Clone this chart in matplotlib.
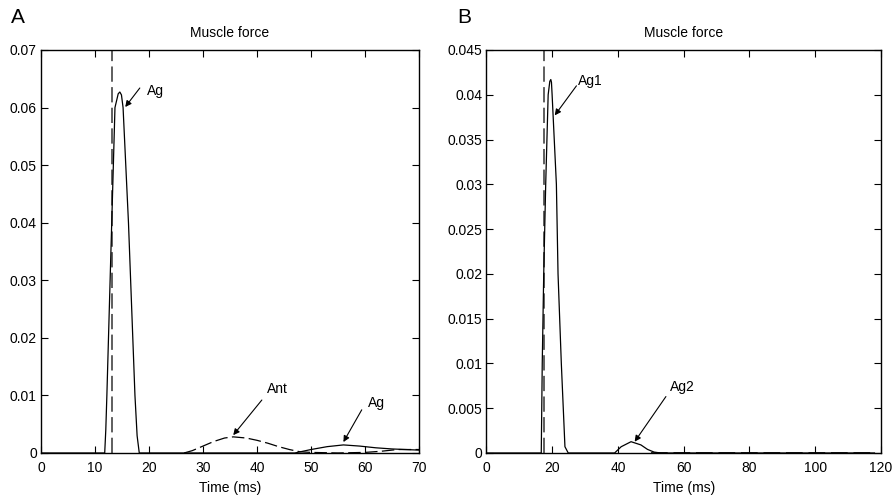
import numpy as np
import matplotlib
matplotlib.use('Agg')
import matplotlib.pyplot as plt
from matplotlib.ticker import FuncFormatter

plt.rcParams['font.family'] = ['Liberation Sans Narrow', 'Liberation Sans', 'DejaVu Sans']

# Panel A: single agonist burst, antagonist, second agonist burst
onset_a = 13.1
ag_a_t = [0, 11.8, 12.0, 12.2, 12.8, 13.1, 13.7, 14.3, 14.6, 14.9, 15.2, 16.2, 16.6, 17.4, 17.8, 18.2,
          47, 50, 53, 56, 59, 62, 65, 70]
ag_a = [0, 0, 0.004, 0.01, 0.03, 0.04, 0.06, 0.0624, 0.0627, 0.0622, 0.06, 0.04, 0.03, 0.01, 0.003, 0,
        0, 0.0006, 0.0011, 0.0014, 0.0012, 0.0009, 0.0007, 0.0005]
ant_a_t = [26.5, 28, 30, 32, 34, 35.6, 38, 40, 42, 44, 46, 48, 50, 55, 60, 63, 66, 70]
ant_a = [0, 0.0004, 0.0012, 0.002, 0.0026, 0.0028, 0.0026, 0.0022, 0.0017, 0.0011, 0.0006,
         0.0002, 0.0001, 0.0, 0.0001, 0.0003, 0.0006, 0.0006]

# Panel B: two agonist bursts
onset_b = 17.6
ag_b_t = [0, 16.7, 17.0, 17.45, 18.05, 18.8, 19.3, 19.6, 19.8, 20.0, 21.3, 21.8, 22.8, 23.9, 24.9,
          39, 41, 44, 47, 49, 51, 53, 118]
ag_b = [0, 0, 0.01, 0.02, 0.03, 0.04, 0.0415, 0.0417, 0.0414, 0.04, 0.03, 0.02, 0.01, 0.0007, 0,
        0, 0.0007, 0.00126, 0.0009, 0.0004, 0.0001, 0, 0]
ant_b_t = [50, 117]
ant_b = [0, 0]

xticks_a = np.arange(0, 71, 10)
yticks_a = np.arange(0, 0.0701, 0.01)
xticks_b = np.arange(0, 121, 20)
yticks_b = np.arange(0, 0.04501, 0.005)

dash = (0, (10, 3.5))


def fmt(v, pos):
    s = ('%.3f' % v).rstrip('0').rstrip('.')
    return s


def style_axes(ax, xticks, yticks):
    ax.set_xticks(xticks)
    ax.set_yticks(yticks)
    ax.set_xlim(xticks[0], xticks[-1])
    ax.set_ylim(yticks[0], yticks[-1])
    ax.yaxis.set_major_formatter(FuncFormatter(fmt))
    ax.tick_params(direction='in', length=5, width=0.8, top=True, right=True,
                   labelsize=10, pad=3)
    ax.tick_params(axis='x', pad=6)
    for s in ax.spines.values():
        s.set_linewidth(1.0)
    ax.set_title('Muscle force', fontsize=10, pad=9)
    ax.set_xlabel('Time (ms)', fontsize=10, labelpad=4)


def arrow(ax, tail, tip):
    ax.annotate('', xy=tip, xytext=tail,
                arrowprops=dict(arrowstyle='-|>', color='k', lw=0.8,
                                mutation_scale=9, shrinkA=0, shrinkB=0))


fig = plt.figure(figsize=(8.93, 4.98), dpi=100)
ax_a = fig.add_axes([0.0459, 0.0904, 0.4233, 0.8092])
ax_b = fig.add_axes([0.5446, 0.0904, 0.4420, 0.8092])

# panel A
ax_a.axvline(onset_a, color='#333333', lw=1.1, linestyle=dash)
ax_a.plot(ag_a_t, ag_a, color='k', lw=0.9)
ax_a.plot(ant_a_t, ant_a, color='k', lw=0.9, linestyle=dash)
style_axes(ax_a, xticks_a, yticks_a)
ax_a.text(19.6, 0.0629, 'Ag', fontsize=10, va='center', ha='left')
arrow(ax_a, (18.3, 0.0634), (15.6, 0.0601))
ax_a.text(41.9, 0.0111, 'Ant', fontsize=10, va='center', ha='left')
arrow(ax_a, (40.9, 0.0092), (35.6, 0.0031))
ax_a.text(60.6, 0.0087, 'Ag', fontsize=10, va='center', ha='left')
arrow(ax_a, (59.4, 0.0075), (56.0, 0.0019))

# panel B
ax_b.axvline(onset_b, color='#333333', lw=1.1, linestyle=dash)
ax_b.plot(ag_b_t, ag_b, color='k', lw=0.9)
ax_b.plot(ant_b_t, ant_b, color='k', lw=1.2, linestyle=dash)
style_axes(ax_b, xticks_b, yticks_b)
ax_b.text(27.9, 0.0415, 'Ag1', fontsize=10, va='center', ha='left')
arrow(ax_b, (27.4, 0.0410), (20.8, 0.0377))
ax_b.text(55.9, 0.0074, 'Ag2', fontsize=10, va='center', ha='left')
arrow(ax_b, (54.6, 0.0063), (45.1, 0.00126))

fig.text(0.012, 0.965, 'A', fontsize=15, family='Liberation Sans', va='center', ha='left')
fig.text(0.512, 0.965, 'B', fontsize=15, family='Liberation Sans', va='center', ha='left')

fig.savefig('out.png', dpi=100)
